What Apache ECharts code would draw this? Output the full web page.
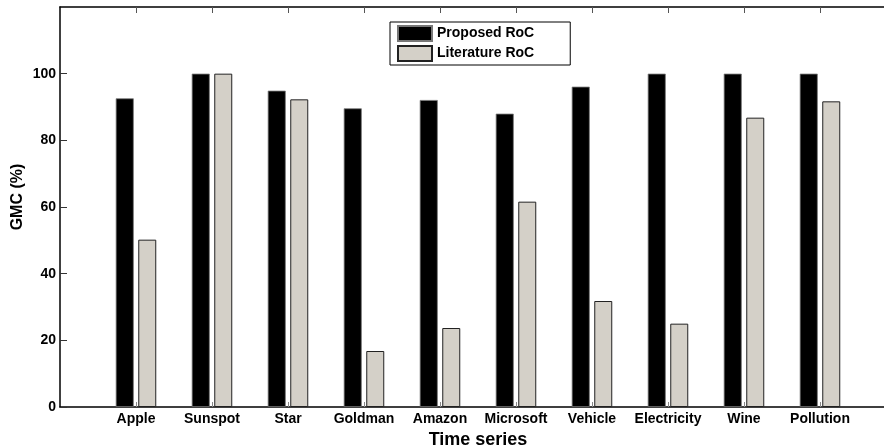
<!DOCTYPE html>
<html><head><meta charset="utf-8">
<script src="https://cdn.jsdelivr.net/npm/echarts@6/dist/echarts.min.js"></script>
<style>html,body{margin:0;padding:0;background:#fff}#c{width:884px;height:445px}</style>
</head><body><div id="c"></div>
<script>
const categories = ['Apple','Sunspot','Star','Goldman','Amazon','Microsoft','Vehicle','Electricity','Wine','Pollution'];
const proposed = [92.6, 100, 94.9, 89.6, 92.1, 88.0, 96.1, 100, 100, 100];
const literature = [50.2, 100, 92.3, 16.8, 23.7, 61.6, 31.8, 25.0, 86.8, 91.7];
const yTicks = [0, 20, 40, 60, 80, 100];
const positions = categories.map((c, i) => i + 1);

const font = 'Liberation Sans, Arial, Helvetica, sans-serif';
const chart = echarts.init(document.getElementById('c'), null, {renderer: 'canvas'});
chart.setOption({
  animation: false,
  backgroundColor: '#fff',
  grid: {left: 60, top: 7, bottom: 38, width: 836, containLabel: false, outerBoundsMode: 'none'},
  legend: {
    orient: 'vertical', left: 390, top: 22,
    data: ['Proposed RoC', 'Literature RoC'],
    icon: 'rect',
    itemWidth: 34, itemHeight: 15, itemGap: 3,
    padding: [3, 36, 3, 7],
    borderColor: '#000', borderWidth: 1, backgroundColor: '#fff',
    textStyle: {fontFamily: font, fontWeight: 'bold', fontSize: 14, color: '#000'}
  },
  graphic: [{
    type: 'text', x: 18, y: 197, rotation: Math.PI / 2,
    style: {text: 'GMC (%)', font: 'bold 16px ' + font, fill: '#000', align: 'center', verticalAlign: 'middle'},
    originX: 0, originY: 0
  }],
  xAxis: [{
    type: 'value', min: 0, max: 11, position: 'bottom',
    name: 'Time series', nameLocation: 'middle', nameGap: 22,
    nameTextStyle: {fontFamily: font, fontWeight: 'bold', fontSize: 18, color: '#000'},
    axisLine: {show: true, onZero: false, lineStyle: {color: '#000', width: 1.5}},
    axisTick: {show: true, inside: true, length: 5, customValues: positions, lineStyle: {color: '#888'}},
    axisLabel: {customValues: positions, formatter: v => categories[Math.round(v) - 1] || '',
      fontFamily: font, fontWeight: 'bold', fontSize: 14, color: '#000', margin: 5},
    splitLine: {show: false}
  }, {
    type: 'value', min: 0, max: 11, position: 'top',
    axisLine: {show: true, onZero: false, lineStyle: {color: '#000', width: 1.5}},
    axisTick: {show: true, inside: true, length: 6, customValues: positions, lineStyle: {color: '#555'}},
    axisLabel: {show: false},
    splitLine: {show: false}
  }],
  yAxis: {
    type: 'value', min: 0, max: 120, interval: 20,
    axisLine: {show: true, onZero: false, lineStyle: {color: '#000', width: 1.5}},
    axisTick: {show: true, inside: true, length: 7, customValues: yTicks, lineStyle: {color: '#333'}},
    axisLabel: {customValues: yTicks, fontFamily: font, fontWeight: 'bold', fontSize: 14, color: '#000', margin: 4},
    splitLine: {show: false}
  },
  series: [{
    name: 'Proposed RoC', type: 'bar', barWidth: 18, barGap: '25%',
    data: positions.map((p, i) => [p, proposed[i]]),
    itemStyle: {color: '#000', borderColor: '#777', borderWidth: 0.8}
  }, {
    name: 'Literature RoC', type: 'bar', barWidth: 18, barGap: '25%',
    data: positions.map((p, i) => [p, literature[i]]),
    itemStyle: {color: '#d4d0c8', borderColor: '#222', borderWidth: 1}
  }]
});
</script></body></html>
